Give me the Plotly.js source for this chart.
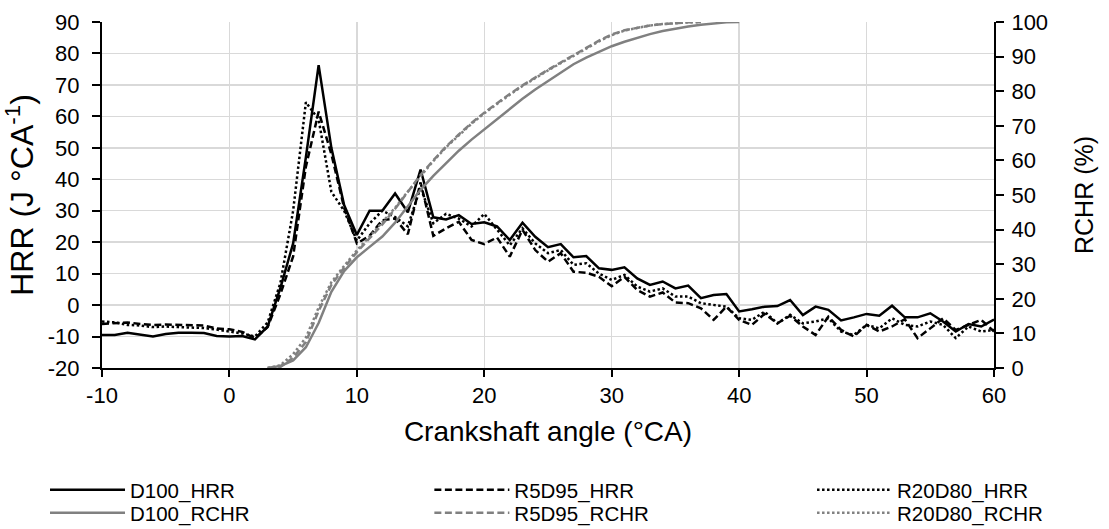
<!DOCTYPE html>
<html>
<head>
<meta charset="utf-8">
<script src="https://cdn.plot.ly/plotly-3.0.1.min.js"></script>
<style>html,body{margin:0;padding:0;background:#fff;}#chart{width:1109px;height:529px;}</style>
</head>
<body>
<div id="chart"></div>
<script>
// Crankshaft angle (°CA)
const angle = [-10,-9,-8,-7,-6,-5,-4,-3,-2,-1,0,1,2,3,4,5,6,7,8,9,10,11,12,13,14,15,16,17,18,19,20,21,22,23,24,25,26,27,28,29,30,31,32,33,34,35,36,37,38,39,40,41,42,43,44,45,46,47,48,49,50,51,52,53,54,55,56,57,58,59,60];

// Heat release rate (J/°CA)
const D100_HRR = [-9.5,-9.5,-8.8,-9.3,-10,-9.2,-8.8,-8.8,-8.9,-9.8,-10,-9.8,-10.9,-6.8,5.5,19.6,47,76.3,50,31.8,22.3,30,30,35.5,29.5,43.1,27.9,27.2,28.6,25.8,26.3,25,20.7,26.2,21.7,18.4,19.4,15.2,15.6,11.7,11.2,12,8.5,6.4,7.5,5.3,6.2,2.2,3.2,3.5,-2,-1.3,-0.5,-0.3,1.6,-3.2,-0.5,-1.5,-4.9,-3.9,-2.8,-3.4,-0.2,-3.9,-3.9,-2.6,-5.2,-8.4,-6,-6.8,-4.6];
const R5D95_HRR = [-6,-5.8,-5.5,-6,-6.3,-6.2,-6.3,-6.4,-6.5,-7.4,-7.7,-8.5,-10.5,-7,3.5,15.5,44,61.5,48,31,19.6,22,27,27.5,22.5,39,22,24.4,26.5,20.7,19.4,21.5,15.4,23.9,17.5,13.8,16.5,10.6,10.3,9,6,9,4.8,2.7,4,0.8,0.6,-1,-4.7,-0.5,-4.7,-6.3,-2.8,-5.8,-3.4,-6.8,-9.5,-3.7,-7.9,-10,-6.3,-8.4,-6.8,-4.5,-10.5,-7.4,-4.2,-7.9,-6.3,-4.7,-8.4];
const R20D80_HRR = [-5.2,-5.5,-6.3,-6.5,-7,-6.8,-7,-7.2,-7.3,-7.8,-8.3,-9,-10,-5.5,7,30,64.5,59,36,30,20.5,26,30,28,25,37.5,26,29,27.5,25,29,24,19,24.4,19.6,16.5,17.5,12.8,13.3,10,8,9.6,5.9,4.3,5.3,2.7,2.7,0.6,0,-0.5,-4.2,-4.7,-2.1,-5.8,-3.1,-5.8,-5.2,-4.2,-8.4,-9.5,-6.3,-7.4,-4.2,-6.3,-6.8,-5.2,-6.3,-10.5,-6.8,-8.4,-7.9];

// Relative cumulative heat release (%)
const D100_RCHR = [null,null,null,null,null,null,null,null,null,null,null,null,null,0,0.6,2.2,6,13,22,28,32,35,38,42,46.8,51.5,55.5,59.3,62.8,66,69,72,75,77.8,80.5,83,85.5,87.8,89.7,91.4,93,94.3,95.5,96.5,97.4,98.1,98.7,99.2,99.6,99.9,100,null,null,null,null,null,null,null,null,null,null,null,null,null,null,null,null,null,null,null,null];
const R5D95_RCHR = [null,null,null,null,null,null,null,null,null,null,null,null,null,0,0.3,3,7.5,16.5,24,29,33.5,37.5,41.5,46,51,55.8,60,64,67.5,70.8,73.8,76.6,79.2,81.7,84,86.2,88.3,90.3,92.5,94.6,96.4,97.6,98.4,99,99.4,99.7,99.9,100,null,null,null,null,null,null,null,null,null,null,null,null,null,null,null,null,null,null,null,null,null,null,null];
const R20D80_RCHR = [null,null,null,null,null,null,null,null,null,null,null,null,null,0,0.8,4,8.8,17.5,24.8,29.5,34,38,42,46.3,51,55.5,59.8,63.8,67.3,70.6,73.6,76.4,79,81.5,83.8,86,88.1,90.1,92.3,94.4,96.2,97.5,98.3,99,99.4,99.7,99.9,100,null,null,null,null,null,null,null,null,null,null,null,null,null,null,null,null,null,null,null,null,null,null,null];

const seriesNames = ['D100_HRR','R5D95_HRR','R20D80_HRR','D100_RCHR','R5D95_RCHR','R20D80_RCHR'];

// Tick labels
const xTickVals = [-10,0,10,20,30,40,50,60];
const xTickText = ['-10','0','10','20','30','40','50','60'];
const yTickVals = [-20,-10,0,10,20,30,40,50,60,70,80,90];
const yTickText = ['-20','-10','0','10','20','30','40','50','60','70','80','90'];
const y2TickVals = [0,10,20,30,40,50,60,70,80,90,100];
const y2TickText = ['0','10','20','30','40','50','60','70','80','90','100'];

const BLACK = '#000000', GREY = '#808080';
const DASH = '7px,3.5px', DOT = '2.5px,2.5px';
const LW = 2.5;

function tr(name, y, axis, color, dash, legend){
  return {type:'scatter', mode:'lines', name:name, x:angle, y:y, yaxis:axis,
    line:{color:color, width:LW, dash:dash}, legend:legend,
    connectgaps:false, hoverinfo:'x+y+name'};
}

const data = [
  tr(seriesNames[3], D100_RCHR, 'y2', GREY, 'solid', 'legend4'),
  tr(seriesNames[4], R5D95_RCHR, 'y2', GREY, DASH, 'legend5'),
  tr(seriesNames[5], R20D80_RCHR, 'y2', GREY, DOT, 'legend6'),
  tr(seriesNames[0], D100_HRR, 'y', BLACK, 'solid', 'legend'),
  tr(seriesNames[1], R5D95_HRR, 'y', BLACK, DASH, 'legend2'),
  tr(seriesNames[2], R20D80_HRR, 'y', BLACK, DOT, 'legend3')
];

const FONT = 'Arial, "Liberation Sans", sans-serif';
function leg(x, y){
  return {orientation:'v', x:x, y:y, yanchor:'middle', xanchor:'left',
    bgcolor:'rgba(0,0,0,0)', borderwidth:0, font:{size:20.5, family:FONT, color:'#000'},
    itemwidth:75, tracegroupgap:0, itemclick:false, itemdoubleclick:false};
}
const ROW1 = -0.3526, ROW2 = -0.4191;
const COL1 = -0.0639, COL2 = 0.367, COL3 = 0.796;

const axisCommon = {zeroline:false, showline:true, linecolor:'#000', linewidth:2,
  ticks:'outside', tickwidth:2, tickcolor:'#000', tickmode:'array'};

const layout = {
  width:1109, height:529,
  margin:{l:102, r:115, t:22, b:161, pad:0, autoexpand:false},
  paper_bgcolor:'#ffffff', plot_bgcolor:'#ffffff',
  font:{family:FONT, color:'#000', size:20},
  showlegend:true,
  xaxis:Object.assign({}, axisCommon, {range:[-10,60], tickvals:xTickVals, ticktext:xTickText,
    showgrid:true, gridcolor:'#d9d9d9', gridwidth:1.5, ticklen:7, ticklabelstandoff:0,
    tickfont:{size:22, family:FONT, color:'#000'},
    title:{text:'Crankshaft angle (°CA)', font:{size:28, family:FONT, color:'#000'}, standoff:14}}),
  yaxis:Object.assign({}, axisCommon, {range:[-20,90], tickvals:yTickVals, ticktext:yTickText,
    showgrid:true, gridcolor:'#d9d9d9', gridwidth:1.5, ticklen:8, ticklabelstandoff:8,
    tickfont:{size:22, family:FONT, color:'#000'},
    title:{text:'HRR (J °CA<sup>-1</sup>)', font:{size:32, family:FONT, color:'#000'}, standoff:6}}),
  yaxis2:Object.assign({}, axisCommon, {overlaying:'y', side:'right', range:[0,100],
    tickvals:y2TickVals, ticktext:y2TickText, showgrid:false, ticklen:8, ticklabelstandoff:3,
    tickfont:{size:22, family:FONT, color:'#000'},
    title:{text:'RCHR (%)', font:{size:25, family:FONT, color:'#000'}, standoff:28}}),
  legend: leg(COL1, ROW1),
  legend2: leg(COL2, ROW1),
  legend3: leg(COL3, ROW1),
  legend4: leg(COL1, ROW2),
  legend5: leg(COL2, ROW2),
  legend6: leg(COL3, ROW2)
};

Plotly.newPlot('chart', data, layout, {displayModeBar:false, staticPlot:true});
</script>
</body>
</html>
